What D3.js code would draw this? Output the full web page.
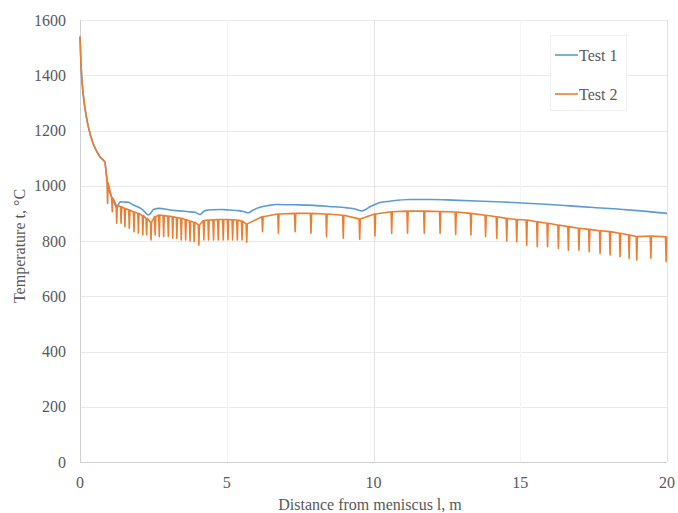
<!DOCTYPE html>
<html>
<head>
<meta charset="utf-8">
<script src="https://cdn.jsdelivr.net/npm/d3@7/dist/d3.min.js"></script>
<style>
  html, body { margin: 0; padding: 0; background: #ffffff; }
  svg { display: block; }
  text { font-family: "Liberation Serif", "Times New Roman", serif; fill: #595959; }
</style>
</head>
<body>
<svg id="chart" width="678" height="513"></svg>
<script>
// ---------- data ----------
const xTicks = [0, 5, 10, 15, 20];
const yTicks = [0, 200, 400, 600, 800, 1000, 1200, 1400, 1600];
const seriesNames = ["Test 1", "Test 2"];

// Test 1 (smooth curve)
const test1X = [0, 0.03, 0.06, 0.1, 0.17, 0.25, 0.35, 0.45, 0.55, 0.68, 0.8, 0.85, 0.9, 0.96, 1.08, 1.18, 1.26, 1.31, 1.37, 1.5, 1.65, 1.82, 2.0, 2.15, 2.33, 2.42, 2.5, 2.7, 2.9, 3.07, 3.41, 3.7, 3.92, 4.09, 4.18, 4.26, 4.5, 4.83, 5.11, 5.4, 5.6, 5.73, 5.9, 6.13, 6.4, 6.7, 7.3, 7.95, 8.5, 9.09, 9.4, 9.6, 9.75, 9.88, 10.05, 10.22, 10.56, 11.24, 12.0, 12.7, 13.5, 14.41, 15.33, 16.0, 16.7, 17.5, 18.4, 19.2, 20];
const test1Y = [1540, 1450, 1390, 1340, 1280, 1230, 1185, 1152, 1128, 1105, 1092, 1085, 1040, 997, 960, 935, 918, 932, 942, 941, 940, 930, 922, 912, 894, 902, 914, 918, 916, 912, 909, 906, 904, 896, 904, 910, 913, 914, 912, 910, 906, 902, 912, 922, 928, 932, 931, 929, 925, 920, 915, 909, 915, 924, 932, 939, 944, 950, 950, 948, 945, 941, 936, 932, 927, 921, 915, 908, 900];

// Test 2: smooth head, then roll-contact spikes
const test2HeadX = [0, 0.03, 0.06, 0.1, 0.17, 0.25, 0.35, 0.45, 0.55, 0.68, 0.8, 0.85, 0.9];
const test2HeadY = [1540, 1450, 1390, 1340, 1280, 1230, 1185, 1152, 1128, 1105, 1092, 1085, 1040];
const test2SpikeX = [0.94, 1.10, 1.25, 1.40, 1.53, 1.68, 1.84, 1.99, 2.14, 2.27, 2.42,
  2.56, 2.70, 2.85, 3.01, 3.16, 3.30, 3.45, 3.60, 3.75, 3.89, 4.05,
  4.22, 4.38, 4.55, 4.71, 4.88, 5.04, 5.20, 5.36, 5.52, 5.68,
  6.22, 6.76, 7.33, 7.87, 8.40, 8.97, 9.53,
  10.05, 10.62, 11.16, 11.73, 12.27, 12.80, 13.32, 13.82, 14.20, 14.54,
  14.88, 15.22, 15.58, 15.93, 16.30, 16.64, 17.00, 17.35, 17.72, 18.06, 18.40, 18.71, 18.97, 19.45, 19.97];
const test2Upper = [1010, 955, 930, 924, 918, 912, 905, 900, 892, 882, 868,
  888, 894, 892, 890, 888, 885, 882, 878, 872, 868, 858,
  874, 876, 877, 878, 878, 878, 877, 876, 872, 862,
  888, 898, 900, 900, 898, 893, 880,
  898, 906, 908, 908, 907, 905, 900, 893, 888, 882,
  878, 876, 870, 864, 858, 852, 846, 842, 837, 834, 828, 822, 816, 818, 815];
const test2Low = [936, 906, 864, 864, 852, 846, 834, 828, 822, 822, 804,
  822, 816, 816, 816, 810, 810, 804, 804, 800, 798, 785,
  804, 804, 804, 804, 804, 804, 804, 804, 804, 796,
  834, 828, 834, 828, 816, 810, 806,
  818, 828, 828, 828, 828, 824, 822, 816, 810, 800,
  797, 785, 779, 779, 773, 767, 767, 761, 755, 749, 743, 737, 731, 738, 725];
const test2EndX = [20];
const test2EndY = [815];

// ---------- layout ----------
const colors = ["#5b9bd5", "#ed7d31"];
const margin = { left: 80, right: 11, top: 20, bottom: 51 };
const W = 678, H = 513;
const spikeHalf = 0.02; // half width of a spike, in metres

const svg = d3.select("#chart");
const x = d3.scaleLinear().domain([0, 20]).range([margin.left, W - margin.right]);
const y = d3.scaleLinear().domain([0, 1600]).range([H - margin.bottom, margin.top]);

// gridlines
svg.append("g").selectAll("line").data(yTicks.filter(d => d > 0)).join("line")
  .attr("x1", x(0)).attr("x2", x(20))
  .attr("y1", d => Math.round(y(d)) + 0.5).attr("y2", d => Math.round(y(d)) + 0.5)
  .attr("stroke", "#e9e9e9").attr("stroke-width", 1);
svg.append("g").selectAll("line").data(xTicks.filter(d => d > 0)).join("line")
  .attr("x1", d => Math.round(x(d)) + 0.5).attr("x2", d => Math.round(x(d)) + 0.5)
  .attr("y1", y(0)).attr("y2", y(1600))
  .attr("stroke", d => (d % 10 === 0 ? "#e2e2e2" : "#f5f5f5")).attr("stroke-width", 1);

// axes lines
svg.append("line").attr("x1", Math.round(x(0)) + 0.5).attr("x2", Math.round(x(0)) + 0.5)
  .attr("y1", y(0)).attr("y2", y(1600)).attr("stroke", "#d0d0d0");
svg.append("line").attr("x1", x(0)).attr("x2", x(20))
  .attr("y1", Math.round(y(0)) + 0.5).attr("y2", Math.round(y(0)) + 0.5).attr("stroke", "#d0d0d0");

// tick labels
svg.append("g").selectAll("text").data(yTicks).join("text")
  .attr("x", 66).attr("y", d => y(d) + 5.5)
  .attr("text-anchor", "end").attr("font-size", 16).text(d => d);
svg.append("g").selectAll("text").data(xTicks).join("text")
  .attr("x", d => x(d)).attr("y", 488)
  .attr("text-anchor", "middle").attr("font-size", 16).text(d => d);

// axis titles
svg.append("text").attr("x", 370).attr("y", 510).attr("text-anchor", "middle")
  .attr("font-size", 16).text("Distance from meniscus l, m");
svg.append("text").attr("transform", "translate(25,246) rotate(-90)")
  .attr("text-anchor", "middle").attr("font-size", 16).text("Temperature t, \u00B0C");

// series
const line = d3.line().x(d => x(d[0])).y(d => y(d[1])).curve(d3.curveLinear);

const t1 = test1X.map((v, i) => [v, test1Y[i]]);
const t2 = test2HeadX.map((v, i) => [v, test2HeadY[i]]);
test2SpikeX.forEach((sx, i) => {
  t2.push([sx - spikeHalf, test2Upper[i]]);
  t2.push([sx, test2Low[i]]);
  t2.push([sx + spikeHalf, test2Upper[i]]);
});
test2EndX.forEach((v, i) => t2.push([v, test2EndY[i]]));

svg.append("path").datum(t1).attr("d", line.curve(d3.curveMonotoneX))
  .attr("fill", "none").attr("stroke", colors[0]).attr("stroke-width", 1.6)
  .attr("stroke-linejoin", "round");
svg.append("path").datum(t2).attr("d", line.curve(d3.curveLinear))
  .attr("fill", "none").attr("stroke", colors[1]).attr("stroke-width", 1.6)
  .attr("stroke-linejoin", "round");

// legend
const lg = svg.append("g");
lg.append("rect").attr("x", 550.5).attr("y", 35.5).attr("width", 76).attr("height", 75)
  .attr("fill", "#ffffff").attr("stroke", "#f0f0f0");
seriesNames.forEach((name, i) => {
  const ly = 55 + i * 39;
  lg.append("line").attr("x1", 555).attr("x2", 578).attr("y1", ly).attr("y2", ly)
    .attr("stroke", colors[i]).attr("stroke-width", 1.6);
  lg.append("text").attr("x", 579).attr("y", ly + 5.5).attr("font-size", 16).text(name);
});
</script>
</body>
</html>
